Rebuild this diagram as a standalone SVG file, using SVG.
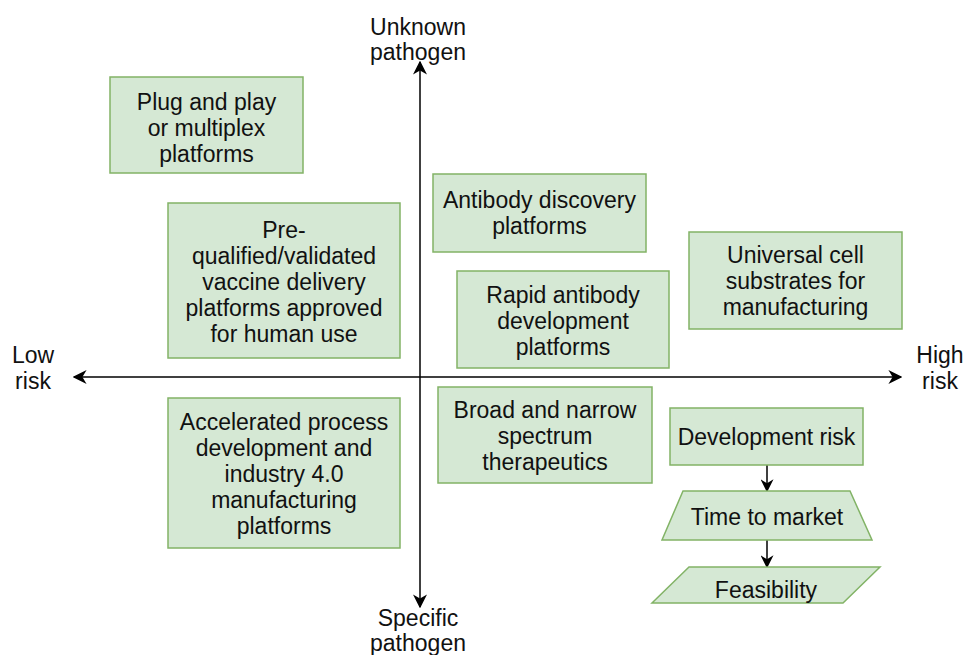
<svg xmlns="http://www.w3.org/2000/svg" width="965" height="655" viewBox="0 0 965 655">
<defs>
<style>
.n{fill:#d5e8d4;stroke:#82b366;stroke-width:1.5}
text{font-family:"Liberation Sans",Arial,Helvetica,sans-serif;font-size:23px;fill:#111;text-anchor:middle}
.ax{stroke:#000;stroke-width:1.5;fill:none}
</style>
<marker id="ah" viewBox="0 0 10 10" refX="9" refY="5" markerWidth="13" markerHeight="13" markerUnits="userSpaceOnUse" orient="auto">
<path d="M0,0 L10,5 L0,10 L3,5 Z" fill="#000"/>
</marker>
<marker id="ah2" viewBox="0 0 10 10" refX="9" refY="5" markerWidth="14" markerHeight="14" markerUnits="userSpaceOnUse" orient="auto">
<path d="M0,0 L10,5 L0,10 L3,5 Z" fill="#000"/>
</marker>
</defs>
<rect width="965" height="655" fill="#fff"/>
<g id="connectors">
<line class="ax" x1="420" y1="377" x2="420" y2="62" marker-end="url(#ah2)"/>
<line class="ax" x1="420" y1="377" x2="420" y2="607" marker-end="url(#ah2)"/>
<line class="ax" x1="420" y1="377" x2="74" y2="377" marker-end="url(#ah2)"/>
<line class="ax" x1="420" y1="377" x2="901" y2="377" marker-end="url(#ah2)"/>
<line class="ax" x1="767" y1="465" x2="767" y2="491" marker-end="url(#ah)"/>
<line class="ax" x1="767" y1="540" x2="767" y2="567" marker-end="url(#ah)"/>
</g>
<g id="label-unknown"><text x="418" y="35">Unknown</text><text x="418" y="60">pathogen</text></g>
<g id="label-specific"><text x="418" y="626">Specific</text><text x="418" y="651">pathogen</text></g>
<g id="label-low"><text x="33" y="363">Low</text><text x="33" y="389">risk</text></g>
<g id="label-high"><text x="940" y="363">High</text><text x="940" y="389">risk</text></g>
<g id="plug">
<rect class="n" x="110" y="77" width="193" height="96"/>
<text x="206.5" y="110">Plug and play</text><text x="206.5" y="136">or multiplex</text><text x="206.5" y="162">platforms</text>
</g>
<g id="prequalified">
<rect class="n" x="168" y="203" width="232" height="155"/>
<text x="284" y="238">Pre-</text><text x="284" y="264">qualified/validated</text><text x="284" y="290">vaccine delivery</text><text x="284" y="316">platforms approved</text><text x="284" y="342">for human use</text>
</g>
<g id="antibody-discovery">
<rect class="n" x="433" y="174" width="213" height="78"/>
<text x="539.5" y="208">Antibody discovery</text><text x="539.5" y="234">platforms</text>
</g>
<g id="rapid">
<rect class="n" x="457" y="271" width="212" height="97"/>
<text x="563" y="303">Rapid antibody</text><text x="563" y="329">development</text><text x="563" y="355">platforms</text>
</g>
<g id="universal">
<rect class="n" x="689" y="232" width="213" height="97"/>
<text x="795.5" y="263">Universal cell</text><text x="795.5" y="289">substrates for</text><text x="795.5" y="315">manufacturing</text>
</g>
<g id="accelerated">
<rect class="n" x="168" y="398" width="232" height="150"/>
<text x="284" y="430">Accelerated process</text><text x="284" y="456">development and</text><text x="284" y="482">industry 4.0</text><text x="284" y="508">manufacturing</text><text x="284" y="534">platforms</text>
</g>
<g id="broad">
<rect class="n" x="438" y="387" width="214" height="96"/>
<text x="545" y="418">Broad and narrow</text><text x="545" y="444">spectrum</text><text x="545" y="470">therapeutics</text>
</g>
<g id="devrisk">
<rect class="n" x="670" y="408" width="193" height="57"/>
<text x="766.5" y="445">Development risk</text>
</g>
<g id="timetomarket">
<polygon class="n" points="683,491 850,491 872,540 662,540"/>
<text x="767" y="525">Time to market</text>
</g>
<g id="feasibility">
<polygon class="n" points="689,567 880,567 843,603 652,603"/>
<text x="766" y="598">Feasibility</text>
</g>
</svg>
